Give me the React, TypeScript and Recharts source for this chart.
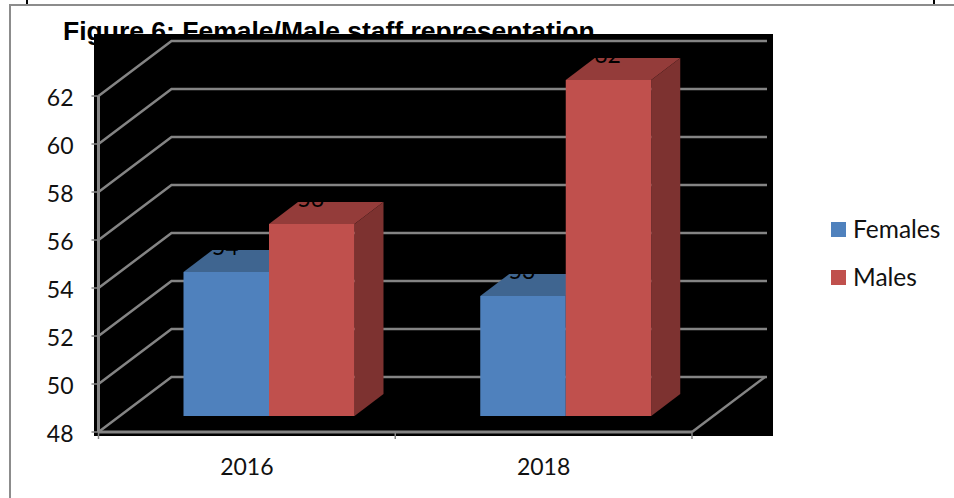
import React from "react";
import { BarChart, Bar, XAxis, YAxis, CartesianGrid, Legend, LabelList } from "recharts";

const categories = ["2016", "2018"];
const females = [54, 53];
const males = [56, 62];
const yTicks = [48, 50, 52, 54, 56, 58, 60, 62];
const titleText = "Figure 6: Female/Male staff representation";

const rows = categories.map((year, i) => ({ year, Females: females[i], Males: males[i] }));

const GRAY = "#848484";
const FONT = "Lato, Carlito, sans-serif";
const BACK_DX = 73;
const BACK_DY = 55;
const BACK_RIGHT = 767;
const BAR_DX = 22;
const BAR_DY = 16;
const DEPTH_DX = 29;
const DEPTH_DY = 22;

const gridLine = (p: any) => {
  const { x1, y1, x2 } = p;
  const isFloor = y1 > 430;
  return (
    <g key={p.key ?? y1}>
      <path
        d={`M${x1} ${y1}L${x1 + BACK_DX} ${y1 - BACK_DY}L${BACK_RIGHT} ${y1 - BACK_DY}`}
        fill="none"
        stroke={GRAY}
        strokeWidth={2.5}
      />
      {isFloor && (
        <path d={`M${x2} ${y1}L${x2 + BACK_DX} ${y1 - BACK_DY}`} fill="none" stroke={GRAY} strokeWidth={2.5} />
      )}
    </g>
  );
};

const box = (top: string, side: string) => (p: any) => {
  const x = p.x + BAR_DX;
  const y = p.y - BAR_DY;
  const w = p.width;
  const h = p.height;
  return (
    <g>
      <path
        d={`M${x} ${y}L${x + DEPTH_DX} ${y - DEPTH_DY}L${x + w + DEPTH_DX} ${y - DEPTH_DY}L${x + w} ${y}Z`}
        fill={top}
      />
      <path
        d={`M${x + w} ${y}L${x + w + DEPTH_DX} ${y - DEPTH_DY}L${x + w + DEPTH_DX} ${y + h - DEPTH_DY}L${x + w} ${y + h}Z`}
        fill={side}
      />
      <rect x={x} y={y} width={w} height={h} fill={p.fill} />
    </g>
  );
};

const valueLabel = (p: any) => (
  <text
    x={p.x + p.width / 2 + BAR_DX - 1}
    y={p.y - BAR_DY - 17}
    textAnchor="middle"
    fontFamily={FONT}
    fontSize={23}
    fill="#000000"
  >
    {p.value}
  </text>
);

const xTick = (p: any) => {
  const half = p.payload.offset;
  const cx = p.payload.coordinate;
  return (
    <g>
      <line x1={cx - half} y1={432} x2={cx - half} y2={439} stroke={GRAY} strokeWidth={1.5} />
      {p.index === categories.length - 1 && (
        <line x1={cx + half} y1={432} x2={cx + half} y2={439} stroke={GRAY} strokeWidth={1.5} />
      )}
      <text x={cx} y={475} textAnchor="middle" fontFamily={FONT} fontSize={23} fill="#111111">
        {p.payload.value}
      </text>
    </g>
  );
};

const legendContent = (p: any) => (
  <div style={{ position: "relative", width: 120, height: 70 }}>
    {p.payload.map((e: any, i: number) => (
      <div key={e.value} style={{ position: "absolute", left: 0, top: i * 48, height: 30, width: 120 }}>
        <span
          style={{ position: "absolute", left: 0, top: 7, width: 15, height: 15, background: e.color }}
        />
        <span
          style={{
            position: "absolute",
            left: 22,
            top: -1,
            fontFamily: FONT,
            fontSize: 24.5,
            lineHeight: "30px",
            color: "#111111",
          }}
        >
          {e.value}
        </span>
      </div>
    ))}
  </div>
);

export default function App() {
  return (
    <div style={{ position: "absolute", left: 0, top: 0, width: 954, height: 498, overflow: "hidden", background: "#fff" }}>
      <div style={{ position: "absolute", left: 9, top: 4, width: 960, height: 520, borderLeft: "2px solid #8c8c8c", borderTop: "2px solid #8c8c8c" }} />
      <div style={{ position: "absolute", left: 26, top: 0, width: 2, height: 4, background: "#000" }} />
      <div style={{ position: "absolute", left: 933, top: 0, width: 2, height: 4, background: "#000" }} />
      <div
        style={{
          position: "absolute",
          left: 63,
          top: 16,
          whiteSpace: "nowrap",
          fontFamily: "'Liberation Sans', Arial, sans-serif",
          fontWeight: 700,
          fontSize: 26.5,
          lineHeight: "30px",
          color: "#000",
        }}
      >
        {titleText}
      </div>
      <div style={{ position: "absolute", left: 94, top: 34, width: 679, height: 402, background: "#000" }} />
      <div style={{ position: "absolute", left: 0, top: 0 }}>
        <BarChart
          width={954}
          height={498}
          data={rows}
          margin={{ top: 96, right: 262, bottom: 36, left: 38.5 }}
          barGap={0}
        >
          <CartesianGrid horizontal={gridLine} vertical={false} />
          <XAxis
            dataKey="year"
            height={30}
            axisLine={{ stroke: GRAY, strokeWidth: 3 }}
            tickLine={false}
            tick={xTick}
            interval={0}
          />
          <YAxis
            width={60}
            domain={[48, 62]}
            ticks={yTicks}
            interval={0}
            axisLine={{ stroke: GRAY, strokeWidth: 3 }}
            tickLine={{ stroke: GRAY, strokeWidth: 1.5 }}
            tickSize={7}
            tickMargin={18}
            tick={{ fontFamily: FONT, fontSize: 23, fill: "#111111", dy: 2 }}
          />
          <Legend
            layout="vertical"
            align="center"
            verticalAlign="middle"
            content={legendContent}
            wrapperStyle={{ position: "absolute", left: 831, top: 215, width: 120, height: 80 }}
          />
          <Bar dataKey="Females" fill="#4F81BD" barSize={85.5} isAnimationActive={false} shape={box("#3F6590", "#3A5C85")}>
            <LabelList dataKey="Females" content={valueLabel} />
          </Bar>
          <Bar dataKey="Males" fill="#C0504D" barSize={85.5} isAnimationActive={false} shape={box("#943C3A", "#7D3230")}>
            <LabelList dataKey="Males" content={valueLabel} />
          </Bar>
        </BarChart>
      </div>
    </div>
  );
}
